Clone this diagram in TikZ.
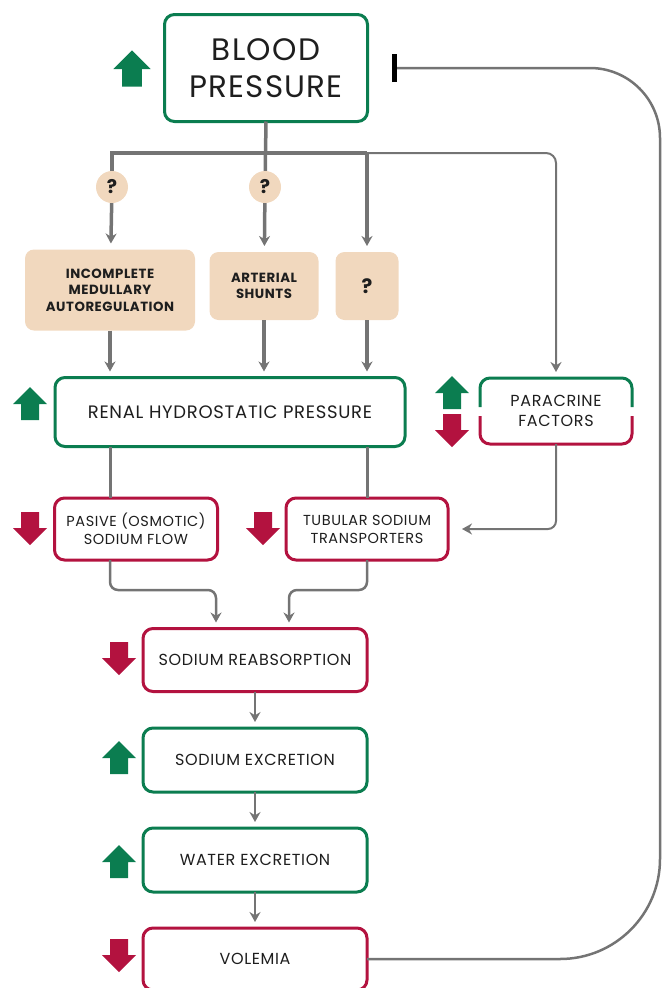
\documentclass[tikz,border=0pt]{standalone}
\usepackage{fontspec}
\setmainfont{Poppins}[LetterSpace=4]
\usetikzlibrary{arrows.meta,positioning}
\definecolor{upgreen}{HTML}{0B7D50}
\definecolor{downred}{HTML}{B3123F}
\definecolor{tanfill}{HTML}{F1D8BE}
\definecolor{wiregray}{HTML}{747474}
\definecolor{ink}{HTML}{1E1E1E}

\tikzset{
  box/.style={draw,line width=3pt,rounded corners=10pt,fill=white,align=center,inner sep=0pt,outer sep=0pt,text=ink,font=\fontsize{14.5}{18}\selectfont},
  gbox/.style={box,draw=upgreen},
  rbox/.style={box,draw=downred},
  cause/.style={fill=tanfill,rounded corners=9pt,align=center,inner sep=0pt,outer sep=0pt,text=ink,font=\fontsize{13.3}{16.5}\selectfont\bfseries},
  qmark/.style={circle,fill=tanfill,minimum size=32pt,inner sep=0pt,text=ink,font=\fontsize{19}{19}\selectfont\bfseries},
  plain/.style={draw=wiregray,line width=2.5pt},
  trunkline/.style={plain,line width=3.5pt},
  wire/.style={plain,-{Stealth[length=10pt,width=11pt]},shorten >=6pt},
  trunk/.style={wire,line width=3.5pt},
  thinwire/.style={wire,line width=2pt},
  upmark/.pic={\fill[upgreen] (-17,0) -- (0,-17) -- (17,0) -- (9,0) -- (9,16) -- (-9,16) -- (-9,0) -- cycle;},
  downmark/.pic={\fill[downred] (-17,0) -- (0,17) -- (17,0) -- (9,0) -- (9,-16) -- (-9,-16) -- (-9,0) -- cycle;}
}

\begin{document}
\begin{tikzpicture}[x=1pt,y=-1pt]
\useasboundingbox (0,0) rectangle (662,988);

% top of the loop
\node[gbox,minimum width=203pt,minimum height=107pt,font=\fontsize{31}{37}\selectfont] (bp) at (266,68) {BLOOD\\PRESSURE};
\pic[scale=1.1] at (132,69) {upmark};
\coordinate (split) at (265,153);

\node[qmark] (qa) at (112,187) {?};
\node[qmark] (qb) at (265,187) {?};

\node[cause,minimum width=170pt,minimum height=81pt] (medul) at (110,290) {INCOMPLETE\\MEDULLARY\\AUTOREGULATION};
\node[cause,minimum width=109pt,minimum height=68pt] (shunts) at (264,286) {ARTERIAL\\SHUNTS};
\node[cause,minimum width=63pt,minimum height=68pt,font=\fontsize{20}{20}\selectfont\bfseries] (unk) at (367,286) {?};

\draw[trunkline] (bp.south) -- (qb);
\draw[trunkline] (qa) |- (unk.north |- split);
\draw[trunk] (unk.north |- split) -- (unk.north);
\draw[trunk] (qa) -- (medul);
\draw[trunk] (qb) -- (shunts);

% kidney
\node[gbox,minimum width=350pt,minimum height=69pt,font=\fontsize{18}{22}\selectfont] (renal) at (230,412) {RENAL HYDROSTATIC PRESSURE};
\pic at (30,404) {upmark};
\node[minimum width=152pt,minimum height=66pt,align=center,inner sep=0pt,outer sep=0pt,text=ink,font=\fontsize{16}{20}\selectfont] (parac) at (556,411) {PARACRINE\\FACTORS};
\draw[upgreen,line width=3pt,rounded corners=10pt] ([yshift=4pt]parac.west) |- (parac.north) -| ([yshift=4pt]parac.east);
\draw[downred,line width=3pt,rounded corners=10pt] ([yshift=-5pt]parac.west) |- (parac.south) -| ([yshift=-5pt]parac.east);
\pic at (452,393) {upmark};
\pic at (452,430) {downmark};

\draw[thinwire,rounded corners=10pt] (unk.north |- split) -| (parac.north);
\draw[trunk] (medul) -- (medul |- renal.north);
\draw[trunk] (shunts) -- (shunts |- renal.north);
\draw[trunk] (unk) -- (unk |- renal.north);

\node[rbox,minimum width=163pt,minimum height=62pt] (pasive) at (136,529) {PASIVE (OSMOTIC)\\SODIUM FLOW};
\node[rbox,minimum width=162pt,minimum height=62pt] (tubular) at (367,529) {TUBULAR SODIUM\\TRANSPORTERS};
\pic at (30,528) {downmark};
\pic at (263,528) {downmark};

\draw[plain,line width=3pt] (renal.south -| medul.south) -- (pasive.north -| medul.south);
\draw[plain,line width=3pt] (renal.south -| unk.south) -- (tubular.north -| unk.south);
\draw[thinwire,rounded corners=8pt,shorten >=14pt] (parac.south) |- (tubular.east);

% sodium and water
\node[rbox,minimum width=224pt,minimum height=63pt,font=\fontsize{16}{20}\selectfont] (reabs) at (255,660) {SODIUM REABSORPTION};
\node[gbox,minimum width=224pt,minimum height=64pt,font=\fontsize{16}{20}\selectfont] (natri) at (255,760) {SODIUM EXCRETION};
\node[gbox,minimum width=224pt,minimum height=64pt,font=\fontsize{16}{20}\selectfont] (water) at (255,860) {WATER EXCRETION};
\node[rbox,minimum width=224pt,minimum height=62pt,font=\fontsize{16}{20}\selectfont] (volemia) at (255,959) {VOLEMIA};
\pic at (119,658) {downmark};
\pic at (119,758) {upmark};
\pic at (119,862) {upmark};
\pic at (119,955) {downmark};

\coordinate (joinl) at (216,590);
\coordinate (joinr) at (289,590);
\draw[wire,rounded corners=8pt] (pasive.south -| medul.south) |- (joinl) -- (joinl |- reabs.north);
\draw[wire,rounded corners=8pt] (tubular.south -| unk.south) |- (joinr) -- (joinr |- reabs.north);
\draw[wire] (reabs) -- (natri);
\draw[wire] (natri) -- (water);
\draw[wire] (water) -- (volemia);

% feedback
\draw[plain,-{Bar[width=28pt,line width=5pt,color=black]},shorten >=24pt] (volemia.east) [rounded corners=100pt] -| (660,500) [rounded corners=70pt] |- (bp.east);
\end{tikzpicture}
\end{document}
